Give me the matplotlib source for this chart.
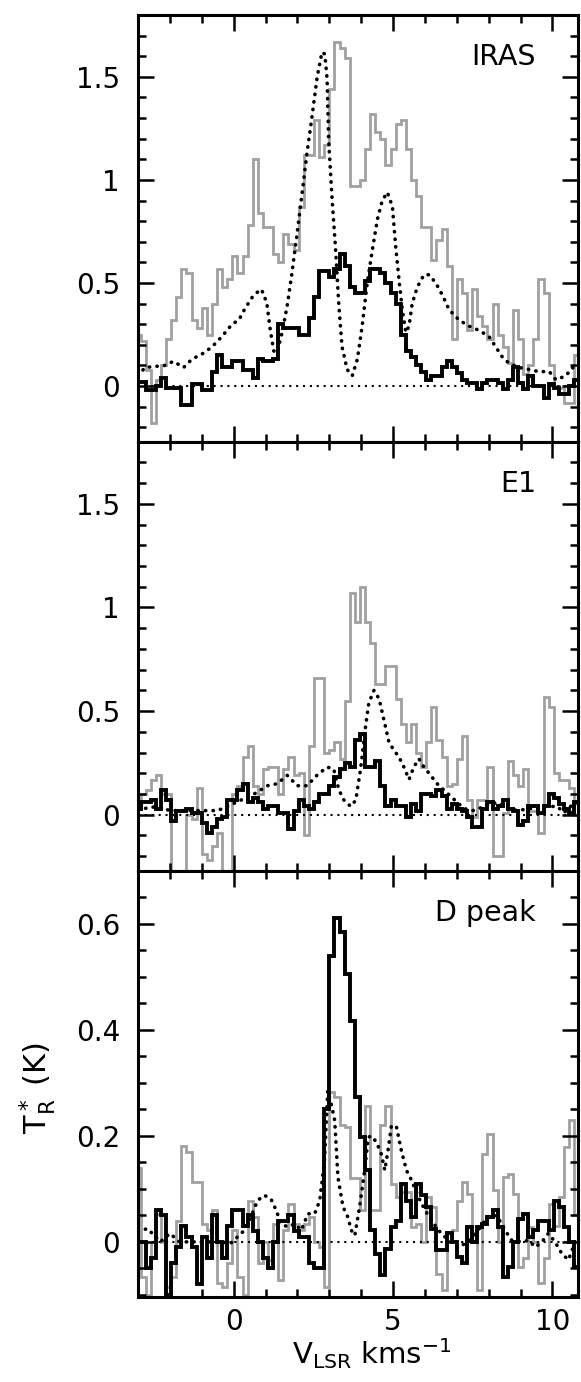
import numpy as np
import matplotlib
matplotlib.use("Agg")
import matplotlib.pyplot as plt
from matplotlib.ticker import MultipleLocator, FuncFormatter

plt.rcParams['font.family'] = ['DejaVu Sans']
plt.rcParams['mathtext.default'] = 'regular'

# spectrometer channels (km/s)
chan_start = -3.08
chan_width = 0.16
n_chan = 87
edges = chan_start + chan_width * np.arange(n_chan + 1)

# IRAS position
iras_black = [0.02, 0.02, -0.02, -0.02, 0.00, 0.04, -0.01, -0.01, -0.01, -0.09,
              -0.09, 0.01, 0.01, -0.02, -0.02, 0.07, 0.15, 0.09, 0.09, 0.12,
              0.12, 0.08, 0.08, 0.04, 0.13, 0.12, 0.12, 0.13, 0.30, 0.28,
              0.28, 0.28, 0.25, 0.25, 0.33, 0.43, 0.56, 0.56, 0.53, 0.57,
              0.64, 0.58, 0.48, 0.45, 0.45, 0.51, 0.57, 0.57, 0.55, 0.50,
              0.45, 0.40, 0.25, 0.17, 0.14, 0.10, 0.07, 0.03, 0.05, 0.05,
              0.09, 0.12, 0.09, 0.065, 0.03, 0.016, 0.016, -0.016, 0.016, 0.03,
              0.03, 0.016, -0.016, 0.03, 0.09, 0.016, -0.016, 0.05, 0.00, 0.00,
              -0.06, 0.01, -0.01, -0.04, -0.04, 0.00, 0.03]
iras_gray = [0.25, 0.22, 0.08, -0.18, 0.03, 0.10, 0.23, 0.32, 0.43, 0.57,
             0.55, 0.32, 0.28, 0.38, 0.25, 0.40, 0.57, 0.48, 0.52, 0.63,
             0.55, 0.63, 0.78, 1.10, 0.84, 0.77, 0.77, 0.64, 0.60, 0.74,
             0.69, 0.66, 0.87, 1.12, 1.12, 1.29, 1.11, 1.17, 1.44, 1.67,
             1.64, 1.59, 0.97, 0.97, 1.00, 1.15, 1.32, 1.23, 1.20, 1.07,
             1.15, 1.27, 1.29, 1.15, 1.00, 0.92, 0.77, 0.77, 0.61, 0.71,
             0.76, 0.58, 0.23, 0.52, 0.45, 0.27, 0.47, 0.34, 0.29, 0.23,
             0.40, 0.25, 0.19, 0.11, 0.37, 0.23, 0.06, 0.10, 0.23, 0.52,
             0.45, 0.10, 0.00, -0.01, -0.08, -0.08, 0.15]
iras_dot_v = [-3.0, -2.78, -2.15, -1.89, -1.57, -1.31, -0.94, -0.68, -0.37, -0.05,
              0.16, 0.37, 0.58, 0.84, 0.94, 1.05, 1.15, 1.26, 1.36, 1.52,
              1.68, 1.83, 1.99, 2.15, 2.30, 2.46, 2.62, 2.77, 2.86, 2.93,
              2.98, 3.09, 3.19, 3.30, 3.40, 3.56, 3.72, 3.88, 4.03, 4.19,
              4.35, 4.51, 4.66, 4.82, 4.98, 5.08, 5.19, 5.29, 5.40, 5.50,
              5.60, 5.76, 5.97, 6.13, 6.34, 6.55, 6.76, 7.07, 7.39, 7.70,
              8.01, 8.22, 8.43, 8.64, 8.96, 9.27, 9.58, 9.90, 10.11, 10.42,
              10.63, 10.84]
iras_dot_t = [0.05, 0.09, 0.10, 0.12, 0.09, 0.13, 0.16, 0.19, 0.24, 0.30,
              0.32, 0.38, 0.43, 0.47, 0.45, 0.39, 0.27, 0.17, 0.16, 0.26,
              0.39, 0.55, 0.74, 0.94, 1.13, 1.31, 1.50, 1.62, 1.61, 1.49,
              1.19, 0.90, 0.68, 0.39, 0.19, 0.08, 0.05, 0.13, 0.29, 0.50,
              0.66, 0.81, 0.90, 0.94, 0.87, 0.68, 0.51, 0.37, 0.26, 0.29,
              0.40, 0.48, 0.54, 0.54, 0.50, 0.44, 0.37, 0.32, 0.29, 0.27,
              0.24, 0.19, 0.14, 0.11, 0.09, 0.08, 0.07, 0.07, 0.03, 0.05,
              0.09, 0.07]

# E1 position
e1_black = [0.03, 0.06, 0.06, 0.07, 0.03, 0.12, 0.07, -0.03, 0.02, 0.02,
            0.03, 0.01, 0.01, -0.04, -0.09, -0.06, -0.02, -0.01, 0.07, 0.07,
            0.12, 0.15, 0.06, 0.08, 0.06, 0.03, 0.04, 0.04, 0.01, 0.01,
            -0.07, 0.02, 0.07, 0.04, 0.03, 0.06, 0.10, 0.10, 0.14, 0.18,
            0.22, 0.25, 0.23, 0.36, 0.39, 0.23, 0.23, 0.26, 0.14, 0.04,
            0.07, 0.04, 0.04, -0.01, 0.05, 0.02, 0.10, 0.10, 0.09, 0.12,
            0.09, 0.03, 0.05, 0.03, 0.02, -0.01, -0.06, -0.06, 0.03, 0.06,
            0.03, 0.04, 0.07, 0.03, 0.02, -0.05, -0.03, 0.04, 0.04, 0.01,
            0.04, 0.10, 0.08, 0.05, 0.03, 0.01, 0.06]
e1_gray = [0.05, 0.10, 0.12, 0.17, 0.19, 0.10, 0.10, -0.30, -0.30, -0.30,
           0.00, -0.02, 0.13, -0.19, -0.22, -0.15, -0.09, -0.30, -0.30, 0.10,
           0.14, 0.28, 0.33, 0.14, 0.10, 0.22, 0.23, 0.23, 0.10, 0.22,
           0.28, 0.19, 0.20, -0.10, 0.33, 0.66, 0.66, 0.30, 0.31, 0.35,
           0.27, 0.55, 1.07, 0.93, 1.10, 0.93, 0.83, 0.63, 0.63, 0.72,
           0.72, 0.56, 0.44, 0.35, 0.44, 0.30, 0.23, 0.35, 0.52, 0.36,
           0.28, 0.14, 0.15, 0.27, 0.38, 0.07, -0.01, 0.07, 0.07, 0.23,
           -0.20, -0.20, 0.01, 0.26, 0.19, 0.14, 0.22, 0.02, 0.02, -0.09,
           0.57, 0.52, 0.20, 0.17, 0.17, 0.13, 0.00]
e1_dot_v = [-3.0, -2.8, -2.4, -2.0, -1.5, -1.0, -0.5, -0.2, 0.22, 0.64,
            1.06, 1.37, 1.68, 2.0, 2.30, 2.61, 2.93, 3.14, 3.30, 3.46,
            3.67, 3.83, 3.98, 4.14, 4.24, 4.40, 4.56, 4.71, 4.87, 5.03,
            5.18, 5.34, 5.50, 5.65, 5.81, 5.97, 6.18, 6.38, 6.59, 6.80,
            7.01, 7.22, 7.53, 7.85, 8.27, 8.47, 8.89, 9.31, 9.73, 10.15,
            10.36, 10.56, 10.84]
e1_dot_t = [0.03, 0.03, 0.04, 0.02, 0.02, 0.02, 0.02, 0.04, 0.07, 0.10,
            0.14, 0.15, 0.19, 0.14, 0.14, 0.19, 0.23, 0.22, 0.12, 0.07,
            0.04, 0.07, 0.22, 0.43, 0.54, 0.60, 0.56, 0.46, 0.35, 0.31,
            0.28, 0.23, 0.17, 0.23, 0.27, 0.23, 0.19, 0.15, 0.12, 0.09,
            0.06, 0.03, 0.02, 0.04, 0.06, 0.04, 0.02, 0.03, 0.04, 0.04,
            0.01, 0.04, 0.06]

# D peak position
dpk_black = [0.00, 0.00, -0.05, -0.03, 0.06, 0.05, -0.10, -0.04, -0.01, 0.03,
             0.01, -0.01, -0.08, 0.01, -0.03, 0.05, 0.00, -0.03, 0.03, 0.06,
             0.06, 0.03, 0.05, 0.02, 0.00, -0.03, -0.05, 0.00, 0.04, 0.04,
             0.05, 0.02, 0.01, 0.01, -0.04, -0.05, -0.05, 0.25, 0.54, 0.61,
             0.585, 0.505, 0.417, 0.273, 0.197, 0.135, 0.022, -0.022, -0.063, -0.013,
             0.028, 0.04, 0.11, 0.078, 0.047, 0.11, 0.088, 0.066, 0.025, -0.016,
             -0.016, 0.016, 0.0, -0.028, -0.04, 0.028, 0.0, 0.028, 0.034, 0.047,
             0.06, 0.028, -0.066, -0.047, 0.0, 0.044, 0.053, 0.01, 0.022, 0.04,
             0.04, 0.022, 0.078, 0.066, 0.028, 0.0, -0.047]
dpk_gray = [0.14, -0.066, -0.10, 0.0, 0.053, 0.0, -0.085, -0.066, 0.04, 0.18,
            0.17, 0.113, 0.113, 0.034, 0.022, 0.06, -0.078, -0.085, -0.04, 0.022,
            -0.066, -0.10, 0.078, 0.047, -0.04, 0.0, -0.034, 0.034, -0.072, 0.022,
            0.072, 0.034, 0.022, 0.034, 0.047, 0.0, -0.01, -0.085, 0.282, 0.273,
            0.22, 0.216, 0.12, 0.12, 0.06, 0.257, 0.06, 0.06, 0.22, 0.257,
            0.11, 0.085, 0.094, 0.094, 0.028, 0.034, 0.0, 0.085, 0.066, -0.06,
            -0.09, 0.0, 0.022, 0.078, 0.113, 0.09, 0.0, -0.09, 0.166, 0.204,
            0.097, 0.0, 0.122, 0.128, 0.091, -0.047, -0.03, 0.028, 0.0, -0.078,
            -0.03, 0.072, 0.03, 0.085, 0.179, 0.229, 0.05]
dpk_dot_v = [-3.0, -2.7, -2.3, -2.0, -1.7, -1.3, -0.8, -0.4, -0.1, 0.13,
             0.34, 0.54, 0.75, 0.96, 1.17, 1.33, 1.49, 1.70, 1.91, 2.12,
             2.33, 2.54, 2.70, 2.85, 2.95, 3.06, 3.17, 3.27, 3.43, 3.58,
             3.69, 3.80, 3.95, 4.11, 4.22, 4.32, 4.48, 4.63, 4.74, 4.84,
             4.95, 5.11, 5.26, 5.42, 5.58, 5.79, 6.0, 6.21, 6.42, 6.73,
             7.04, 7.36, 7.67, 7.88, 8.09, 8.30, 8.51, 8.72, 9.04, 9.25,
             9.46, 9.67, 9.87, 10.08, 10.29, 10.50, 10.71]
dpk_dot_t = [0.02, 0.025, 0.0, 0.016, 0.0, 0.0, 0.0, 0.0, -0.003, 0.01,
             0.022, 0.047, 0.078, 0.088, 0.081, 0.06, 0.034, 0.028, 0.034, 0.022,
             0.053, 0.053, 0.078, 0.154, 0.285, 0.26, 0.229, 0.122, 0.066, 0.047,
             0.022, 0.012, 0.066, 0.135, 0.197, 0.20, 0.188, 0.166, 0.135, 0.172,
             0.22, 0.216, 0.172, 0.135, 0.116, 0.085, 0.06, 0.04, 0.022, 0.003,
             -0.01, 0.0, 0.022, 0.04, 0.053, 0.045, 0.022, 0.003, 0.0, 0.003,
             -0.01, 0.0, 0.016, 0.0, -0.022, -0.034, 0.0]

panel_names = ['IRAS', 'E1', 'D peak']
black_series = [iras_black, e1_black, dpk_black]
gray_series = [iras_gray, e1_gray, dpk_gray]
dot_v = [iras_dot_v, e1_dot_v, dpk_dot_v]
dot_t = [iras_dot_t, e1_dot_t, dpk_dot_t]
y_limits = [(-0.27, 1.80), (-0.27, 1.80), (-0.103, 0.70)]
y_major = [0.5, 0.5, 0.2]
y_minor = [0.1, 0.1, 0.05]

W, H = 581, 1382
fig = plt.figure(figsize=(W / 100, H / 100), dpi=100)

left_px, right_px = 138, 578
panel_px = [(15, 441.7), (441.7, 870.7), (870.7, 1296.5)]

for i in range(3):
    top, bot = panel_px[i]
    ax = fig.add_axes([left_px / W, 1 - bot / H, (right_px - left_px) / W, (bot - top) / H])

    ax.stairs(gray_series[i], edges, baseline=None, color='#a0a0a0', lw=2.0)
    ax.axhline(0, color='black', lw=1.5, ls=(0, (1, 2.3)))
    ax.plot(dot_v[i], dot_t[i], color='black', lw=2.6, ls=(0, (0.1, 2.0)),
            dash_capstyle='round')
    ax.stairs(black_series[i], edges, baseline=None, color='black', lw=2.8)

    ax.set_xlim(-3.0, 10.8)
    ax.set_ylim(*y_limits[i])
    ax.xaxis.set_major_locator(MultipleLocator(5))
    ax.xaxis.set_minor_locator(MultipleLocator(1))
    ax.yaxis.set_major_locator(MultipleLocator(y_major[i]))
    ax.yaxis.set_minor_locator(MultipleLocator(y_minor[i]))
    ax.yaxis.set_major_formatter(FuncFormatter(lambda v, p: f'{v:g}'))
    ax.xaxis.set_major_formatter(FuncFormatter(lambda v, p: f'{v:g}'))

    ax.tick_params(which='both', direction='in', top=True, right=True, width=1.8)
    ax.tick_params(which='major', length=11.5, labelsize=20)
    ax.tick_params(which='minor', length=6)
    ax.tick_params(axis='y', pad=13)
    ax.tick_params(axis='x', pad=8)
    if i < 2:
        ax.tick_params(labelbottom=False)
    for s in ax.spines.values():
        s.set_linewidth(2.2)

    ax.text(0.905, 0.883, panel_names[i], transform=ax.transAxes,
            ha='right', va='baseline', fontsize=20.5)

fig.text(38 / W, 1 - 1088 / H, r'$T_R^*$ (K)', rotation=90,
         ha='center', va='center', fontsize=22)
fig.text(372 / W, 1 - 1364 / H, r'$V_{LSR}$ kms$^{-1}$',
         ha='center', va='baseline', fontsize=21)

fig.savefig('out.png', dpi=100)
